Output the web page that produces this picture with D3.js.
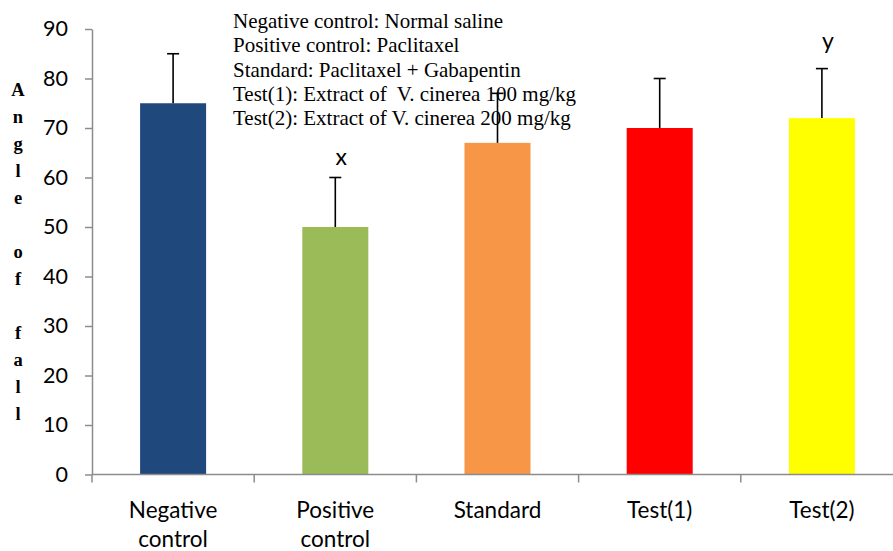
<!DOCTYPE html>
<html>
<head>
<meta charset="utf-8">
<script src="https://cdn.jsdelivr.net/npm/d3@7"></script>
<style>
  html, body { margin: 0; padding: 0; background: #fff; }
  svg { display: block; }
</style>
</head>
<body>
<svg id="chart" width="893" height="551"></svg>
<script>
const categories = ["Negative control", "Positive control", "Standard", "Test(1)", "Test(2)"];
const means = [75, 50, 67, 70, 72];
const errors = [10, 10, 10, 10, 10];
const marks = ["", "x", "", "", "y"];
const barColors = ["#1F497D", "#9BBB59", "#F79646", "#FF0000", "#FFFF00"];
const yTicks = [0, 10, 20, 30, 40, 50, 60, 70, 80, 90];
const legendLines = [
  "Negative control: Normal saline",
  "Positive control: Paclitaxel",
  "Standard: Paclitaxel + Gabapentin",
  "Test(1): Extract of  V. cinerea 100 mg/kg",
  "Test(2): Extract of V. cinerea 200 mg/kg"
];
const yTitle = "Angle of fall";

const svg = d3.select("#chart");
const x0 = 92, bandW = 162.2, yBottom = 474.5, yTop = 29;
const sans = "Lato, 'Open Sans', sans-serif";
const serif = "'Liberation Serif', 'Times New Roman', serif";

const x = d3.scaleBand().domain(categories)
  .range([x0, x0 + bandW * categories.length])
  .paddingInner(0.593).paddingOuter(0.2965);
const y = d3.scaleLinear().domain([0, 90]).range([yBottom, yTop]);

// bars
svg.append("g").selectAll("rect").data(categories).join("rect")
  .attr("x", d => x(d))
  .attr("y", (d, i) => y(means[i]))
  .attr("width", x.bandwidth())
  .attr("height", (d, i) => y(0) - y(means[i]))
  .attr("fill", (d, i) => barColors[i]);

// legend text
const legend = svg.append("text")
  .attr("font-family", serif)
  .attr("font-size", 21)
  .attr("fill", "#000")
  .style("white-space", "pre");
legendLines.forEach((t, i) => {
  legend.append("tspan").attr("x", 233).attr("y", 28 + i * 24.3).text(t);
});

// error bars
const eb = svg.append("g").attr("stroke", "#000").attr("stroke-width", 1.6);
categories.forEach((c, i) => {
  const cx = x(c) + x.bandwidth() / 2;
  eb.append("line").attr("x1", cx).attr("x2", cx)
    .attr("y1", y(means[i])).attr("y2", y(means[i] + errors[i]));
  eb.append("line").attr("x1", cx - 6).attr("x2", cx + 6)
    .attr("y1", y(means[i] + errors[i])).attr("y2", y(means[i] + errors[i]));
});

// significance marks
svg.append("g").selectAll("text").data(categories).join("text")
  .attr("x", d => x(d) + x.bandwidth() / 2 + 6)
  .attr("y", (d, i) => y(means[i] + errors[i]) - 13 - (/[gjpqy]/.test(marks[i]) ? 7 : 0))
  .attr("text-anchor", "middle")
  .attr("font-family", sans)
  .attr("font-size", 23)
  .text((d, i) => marks[i]);

// y axis
const yAxis = d3.axisLeft(y).tickValues(yTicks).tickSize(7).tickPadding(17).tickSizeOuter(0);
const gy = svg.append("g").attr("transform", `translate(${x0},0)`).call(yAxis);
gy.select(".domain").attr("stroke", "#8c8c8c").attr("stroke-width", 1.5);
gy.selectAll(".tick line").attr("stroke", "#8c8c8c").attr("stroke-width", 1.5);
gy.selectAll(".tick text").attr("font-family", sans)
  .attr("font-size", 21.5).attr("fill", "#000");

// x axis: line across, ticks at band boundaries
const gx = svg.append("g");
gx.append("line").attr("x1", x0).attr("x2", 893).attr("y1", yBottom).attr("y2", yBottom)
  .attr("stroke", "#8c8c8c").attr("stroke-width", 1.5);
const boundaries = d3.range(categories.length + 1).map(i => x0 + i * bandW);
gx.selectAll("line.tk").data(boundaries).join("line").attr("class", "tk")
  .attr("x1", d => d).attr("x2", d => d)
  .attr("y1", yBottom).attr("y2", yBottom + 8)
  .attr("stroke", "#8c8c8c").attr("stroke-width", 1.5);
const xl = gx.selectAll("text").data(categories).join("text")
  .attr("text-anchor", "middle")
  .attr("font-family", sans)
  .attr("font-size", 22.5).attr("fill", "#000");
xl.each(function(d) {
  const cx = x(d) + x.bandwidth() / 2;
  d.split(" ").forEach((w, j) => {
    d3.select(this).append("tspan").attr("x", cx).attr("y", 518 + j * 29).text(w);
  });
});

// y title: stacked letters
const title = svg.append("text")
  .attr("text-anchor", "middle")
  .attr("font-family", serif)
  .attr("font-weight", "bold")
  .attr("font-size", 18.5).attr("fill", "#000");
yTitle.split("").forEach((ch, i) => {
  if (ch !== " ") title.append("tspan").attr("x", 18).attr("y", 96 + i * 27).text(ch);
});
</script>
</body>
</html>
